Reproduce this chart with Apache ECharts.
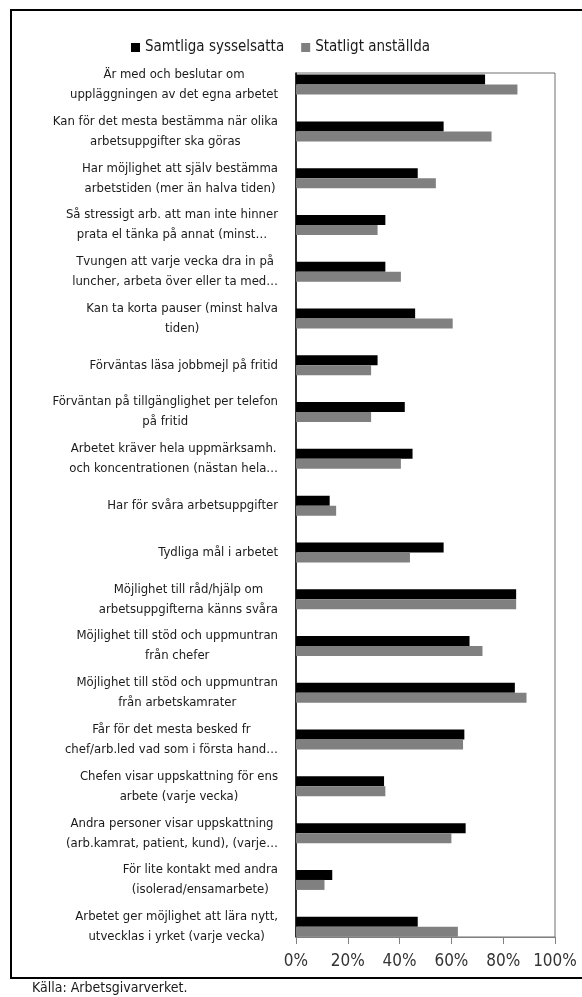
<!DOCTYPE html>
<html>
<head>
<meta charset="utf-8">
<script src="https://cdn.jsdelivr.net/npm/echarts@6/dist/echarts.min.js"></script>
<style>
  html, body { margin: 0; padding: 0; background: #fff; }
  #chart { width: 582px; height: 997px; }
</style>
</head>
<body>
<div id="chart"></div>
<script>
// Survey items (top to bottom)
const categories = [
  "Är med och beslutar om\nuppläggningen av det egna arbetet",
  "Kan för det mesta bestämma när olika\narbetsuppgifter ska göras",
  "Har möjlighet att själv bestämma\narbetstiden (mer än halva tiden)",
  "Så stressigt arb. att man inte hinner\nprata el tänka på annat (minst…",
  "Tvungen att varje vecka dra in på\nluncher, arbeta över eller ta med…",
  "Kan ta korta pauser (minst halva\ntiden)",
  "Förväntas läsa jobbmejl på fritid",
  "Förväntan på tillgänglighet per telefon\npå fritid",
  "Arbetet kräver hela uppmärksamh.\noch koncentrationen (nästan hela…",
  "Har för svåra arbetsuppgifter",
  "Tydliga mål i arbetet",
  "Möjlighet till råd/hjälp om\narbetsuppgifterna känns svåra",
  "Möjlighet till stöd och uppmuntran\nfrån chefer",
  "Möjlighet till stöd och uppmuntran\nfrån arbetskamrater",
  "Får för det mesta besked fr\nchef/arb.led vad som i första hand…",
  "Chefen visar uppskattning för ens\narbete (varje vecka)",
  "Andra personer visar uppskattning\n(arb.kamrat, patient, kund), (varje…",
  "För lite kontakt med andra\n(isolerad/ensamarbete)",
  "Arbetet ger möjlighet att lära nytt,\nutvecklas i yrket (varje vecka)"
];

// Share answering yes, percent
const samtliga = [73, 57, 47, 34.5, 34.5, 46, 31.5, 42, 45, 13, 57, 85, 67, 84.5, 65, 34, 65.5, 14, 47];
const statliga = [85.5, 75.5, 54, 31.5, 40.5, 60.5, 29, 29, 40.5, 15.5, 44, 85, 72, 89, 64.5, 34.5, 60, 11, 62.5];

const seriesNames = ["Samtliga sysselsatta", "Statligt anställda"];
const xTicks = { min: 0, max: 100, interval: 20 };

const FONT = "'Liberation Sans Narrow', 'DejaVu Sans Condensed', sans-serif";
const TEXT = "#1a1a1a";

const chart = echarts.init(document.getElementById('chart'), null, { renderer: 'canvas' });

chart.setOption({
  animation: false,
  backgroundColor: '#fff',
  textStyle: { fontFamily: FONT, color: TEXT },
  legend: {
    data: seriesNames,
    left: 126,
    top: 35,
    icon: 'rect',
    itemWidth: 9,
    itemHeight: 9,
    itemGap: 17,
    textStyle: { fontFamily: FONT, fontSize: 15, color: TEXT }
  },
  graphic: [
    {
      type: 'rect',
      silent: true,
      z: -1,
      shape: { x: 11, y: 10, width: 590, height: 968 },
      style: { fill: 'none', stroke: '#000', lineWidth: 2 }
    },
    {
      type: 'text',
      left: 32,
      top: 981,
      style: { text: 'Källa: Arbetsgivarverket.', font: "14px " + FONT, fill: TEXT }
    }
  ],
  grid: [
    // bars
    { left: 296, right: 27, top: 61.2, bottom: 46.9, outerBoundsMode: 'none' },
    // frame and value scale
    { left: 296, right: 27, top: 73, bottom: 60, outerBoundsMode: 'none',
      show: true, borderColor: '#6e6e6e', borderWidth: 1, backgroundColor: 'transparent' }
  ],
  xAxis: [
    { gridIndex: 0, type: 'value', min: xTicks.min, max: xTicks.max, show: false },
    {
      gridIndex: 1, type: 'value', min: xTicks.min, max: xTicks.max, interval: xTicks.interval,
      axisLine: { show: true, lineStyle: { color: '#808080', width: 1 } },
      axisTick: { show: true, length: 7, lineStyle: { color: '#808080' } },
      splitLine: { show: false },
      axisLabel: { formatter: '{value}%', fontFamily: FONT, fontSize: 17, color: '#333', margin: 16 }
    }
  ],
  yAxis: [
    {
      gridIndex: 0, type: 'category', data: categories, inverse: true,
      axisLine: { show: false }, axisTick: { show: false },
      axisLabel: {
        margin: 18,
        align: 'right',
        interval: 0,
        formatter: v => v.split('\n').map(s => '{c|' + s + '}').join('\n'),
        rich: { c: { align: 'center', fontFamily: FONT, fontSize: 13, lineHeight: 20, color: TEXT } }
      }
    },
    {
      gridIndex: 1, type: 'value', min: 0, max: 1,
      axisLine: { show: true, onZero: false, lineStyle: { color: '#000', width: 1.5 } },
      axisTick: { show: false }, axisLabel: { show: false }, splitLine: { show: false }
    }
  ],
  series: [
    {
      name: seriesNames[0], type: 'bar', xAxisIndex: 0, yAxisIndex: 0,
      data: samtliga, barWidth: 10, barGap: '0%',
      itemStyle: { color: '#000' }
    },
    {
      name: seriesNames[1], type: 'bar', xAxisIndex: 0, yAxisIndex: 0,
      data: statliga, barWidth: 10, barGap: '0%',
      itemStyle: { color: '#808080' }
    }
  ]
});
</script>
</body>
</html>
